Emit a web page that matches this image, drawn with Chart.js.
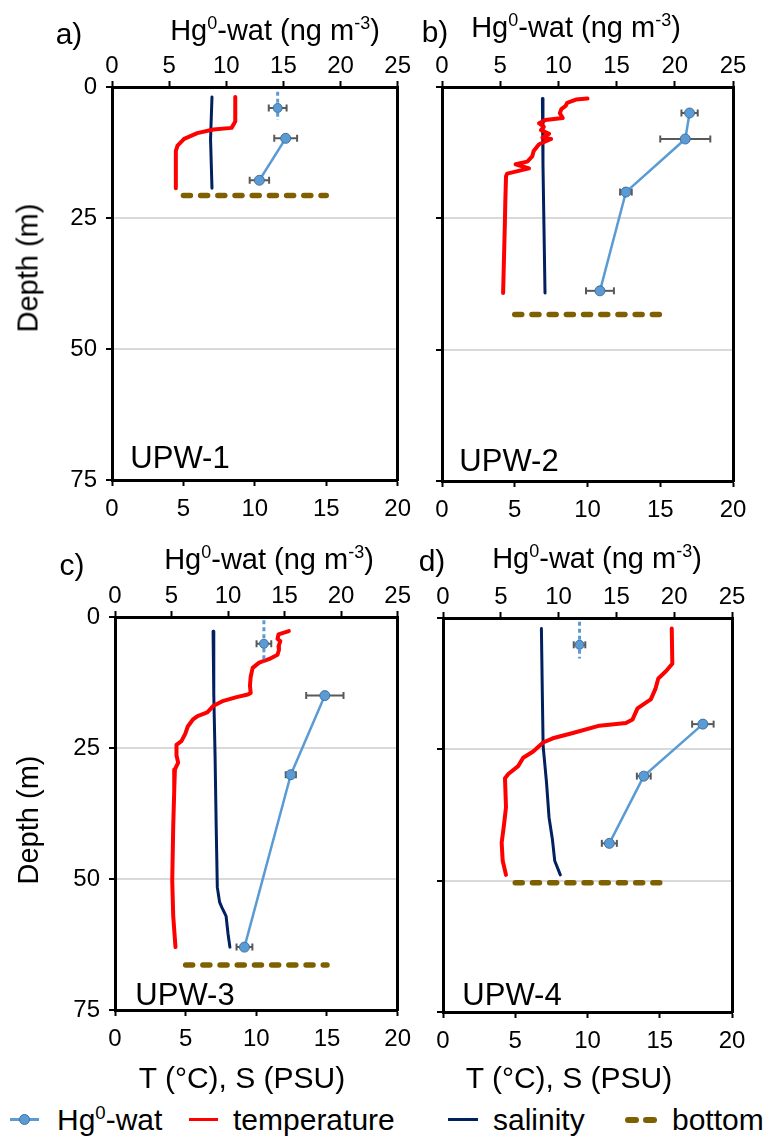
<!DOCTYPE html>
<html lang="en">
<head>
<meta charset="UTF-8" />
<title>Hg0-wat profiles</title>
<script src="https://cdn.jsdelivr.net/npm/chart.js"></script>
<style>
  body { margin: 0; background: #fff; font-family: "Liberation Sans", Arial, sans-serif; color: #000; }
  #wrap { position: relative; width: 767px; height: 1137px; overflow: hidden; }
  canvas { position: absolute; }
  .t { position: absolute; transform: translate(-50%, -50%); line-height: 1; white-space: nowrap; }
  .rot { transform: translate(-50%, -50%) rotate(-90deg); }
  .l { position: absolute; transform: translateY(-50%); line-height: 1; white-space: nowrap; font-size: 30px; }
  sup { font-size: 0.62em; vertical-align: 0.6em; line-height: 0; }
  .swatch { position: absolute; }
</style>
</head>
<body>
<div id="wrap">
  <canvas id="cA" width="420" height="540" style="left:0;top:0"></canvas>
  <canvas id="cB" width="347" height="540" style="left:420px;top:0"></canvas>
  <canvas id="cC" width="420" height="560" style="left:0;top:540px"></canvas>
  <canvas id="cD" width="347" height="560" style="left:420px;top:540px"></canvas>

  <!-- panel letters and titles -->
  <div class="t" style="left:69px;top:34px;font-size:30px">a)</div>
  <div class="t" style="left:275px;top:30px;font-size:29px">Hg<sup>0</sup>-wat (ng m<sup>-3</sup>)</div>
  <div class="t" style="left:435px;top:32px;font-size:30px">b)</div>
  <div class="t" style="left:576px;top:27px;font-size:29px">Hg<sup>0</sup>-wat (ng m<sup>-3</sup>)</div>
  <div class="t" style="left:72px;top:565px;font-size:30px">c)</div>
  <div class="t" style="left:269px;top:559px;font-size:29px">Hg<sup>0</sup>-wat (ng m<sup>-3</sup>)</div>
  <div class="t" style="left:432px;top:561px;font-size:30px">d)</div>
  <div class="t" style="left:597px;top:558px;font-size:29px">Hg<sup>0</sup>-wat (ng m<sup>-3</sup>)</div>

  <div class="t rot" style="left:28px;top:268px;font-size:29px">Depth (m)</div>
  <div class="t rot" style="left:28px;top:820px;font-size:29px">Depth (m)</div>
  <div class="t" style="left:242px;top:1078px;font-size:30px">T (°C), S (PSU)</div>
  <div class="t" style="left:569px;top:1078px;font-size:30px">T (°C), S (PSU)</div>

  <div class="t" style="left:180px;top:457px;font-size:31px">UPW-1</div>
  <div class="t" style="left:509px;top:460px;font-size:31px">UPW-2</div>
  <div class="t" style="left:185px;top:994px;font-size:31px">UPW-3</div>
  <div class="t" style="left:512px;top:994px;font-size:31px">UPW-4</div>

  <!-- legend -->
  <div class="swatch" style="left:10px;top:1118px;width:29px;height:3px;background:#5b9bd5"></div>
  <div class="swatch" style="left:19px;top:1114px;width:9px;height:9px;border-radius:50%;background:#5b9bd5;border:1px solid #41719c"></div>
  <div class="l" style="left:57px;top:1120px">Hg<sup>0</sup>-wat</div>
  <div class="swatch" style="left:189px;top:1118px;width:29px;height:3px;background:#ff0000"></div>
  <div class="l" style="left:233px;top:1120px">temperature</div>
  <div class="swatch" style="left:448px;top:1118px;width:30px;height:3px;background:#002060"></div>
  <div class="l" style="left:493px;top:1120px">salinity</div>
  <div class="swatch" style="left:625px;top:1117px;width:14px;height:6px;border-radius:3px;background:#7f6000"></div>
  <div class="swatch" style="left:643px;top:1117px;width:14px;height:6px;border-radius:3px;background:#7f6000"></div>
  <div class="l" style="left:672px;top:1120px">bottom</div>
</div>

<script>
  // profiles as [value, depth]; Hg as [value, depth, error]
  // UPW-1
  const tempA = [[8.63, 1.9], [8.63, 6.6], [8.37, 7.8], [7.1, 8.1], [5.97, 8.8], [5.05, 9.9], [4.59, 11.2], [4.47, 12.2], [4.47, 19.3]];
  const salA = [[7.0, 1.9], [6.9, 10], [7.0, 19.3]];
  const hgSurfA = [14.5, 4.0, 0.78];
  const hgSurfRangeA = [0.9, 6.3];
  const hgA = [[15.2, 9.8, 1.0], [12.9, 17.8, 0.85]];
  const bottomA = 20.7;

  // UPW-2
  const tempB = [[10.0, 2.2], [9.2, 2.4], [8.6, 3.0], [8.5, 3.6], [8.2, 4.2], [8.1, 5.0], [8.3, 5.9], [7.1, 6.3], [6.67, 6.9], [7.0, 7.6], [6.8, 8.2], [7.36, 8.9], [6.9, 9.6], [7.5, 9.9], [6.67, 10.9], [6.3, 12.2], [6.2, 13.2], [5.86, 14.2], [5.06, 14.7], [5.98, 15.5], [4.48, 16.5], [4.4, 17.0], [4.35, 22], [4.32, 26], [4.2, 39.2]];
  const salB = [[6.9, 2.2], [6.94, 14.8], [7.08, 39.2]];
  const hgSurfB = null;
  const hgSurfRangeB = null;
  const hgB = [[21.27, 4.95, 0.7], [20.9, 9.9, 2.15], [15.8, 20.0, 0.5], [13.57, 38.8, 1.2]];
  const bottomB = 43.3;

  // UPW-3
  const tempC = [[12.3, 2.7], [11.57, 3.3], [11.5, 4.2], [11.7, 4.6], [11.57, 5.6], [11.6, 6.3], [11.5, 7.2], [10.93, 8.0], [10.2, 8.7], [9.74, 9.7], [9.6, 11.4], [9.55, 13.1], [9.6, 14.5], [9.4, 14.8], [8.6, 15.3], [7.67, 16.0], [6.94, 17.0], [6.53, 18.2], [5.84, 18.9], [5.5, 19.6], [5.15, 20.9], [4.97, 22.3], [4.7, 23.7], [4.35, 24.4], [4.35, 26.4], [4.47, 27.8], [4.24, 29.1], [4.19, 33.2], [4.12, 40.0], [4.05, 50.3], [4.12, 57.1], [4.28, 63.0]];
  const salC = [[6.94, 2.7], [6.99, 14.8], [7.08, 26.4], [7.16, 40.0], [7.24, 51.6], [7.4, 54.4], [7.56, 55.4], [7.86, 57.1], [8.0, 60.5], [8.13, 63.0]];
  const hgSurfC = [13.17, 5.1, 0.65];
  const hgSurfRangeC = [0.6, 8.7];
  const hgC = [[18.56, 15.0, 1.65], [15.55, 30.1, 0.45], [11.45, 63.0, 0.7]];
  const bottomC = 66.4;

  // UPW-4
  const tempD = [[15.83, 2.0], [15.87, 8.7], [15.41, 10.2], [14.9, 11.5], [14.7, 13.5], [14.38, 15.5], [13.99, 16.2], [13.46, 17.2], [13.12, 19.3], [12.66, 20.0], [10.83, 20.5], [8.99, 21.9], [7.6, 22.9], [6.93, 23.7], [6.24, 25.4], [5.55, 26.6], [5.2, 28.2], [4.52, 29.7], [4.29, 30.5], [4.36, 36.0], [4.22, 39.4], [4.06, 42.8], [4.13, 46.2], [4.36, 48.9]];
  const salD = [[6.81, 2.0], [6.88, 15.5], [6.93, 24.4], [7.16, 31.2], [7.34, 38.0], [7.57, 42.1], [7.73, 46.2], [8.12, 48.9]];
  const hgSurfD = [11.81, 5.1, 0.5];
  const hgSurfRangeD = [0.7, 7.7];
  const hgD = [[22.48, 20.2, 0.93], [17.37, 30.1, 0.6], [14.39, 42.9, 0.65]];
  const bottomD = 50.4;

  const bottomX = [5, 15]; // extent of the bottom marker on the T/S axis
  const tsTicks = [0, 20, 5];  // min, max, step
  const hgTicks = [0, 25, 5];
  const depthTicks = [0, 75, 25];

  const HG = "#5b9bd5";
  const toXY = (arr) => arr.map((p) => ({ x: p[0], y: p[1] }));

  function buildDatasets(temp, sal, hgSurf, hgSurfRange, hg, bottom) {
    const ds = [];
    if (hgSurf) {
      ds.push({ data: toXY([hgSurf]), xAxisID: "x2", showLine: false, pointRadius: 4.5, pointBackgroundColor: HG, pointBorderColor: "#41719c", pointBorderWidth: 1 });
    }
    ds.push({ data: toXY(hg), xAxisID: "x2", showLine: true, borderColor: HG, borderWidth: 2.5, pointRadius: 5, pointBackgroundColor: HG, pointBorderColor: "#41719c", pointBorderWidth: 1 });
    // horizontal error bars
    const pts = hgSurf ? [hgSurf].concat(hg) : hg;
    pts.forEach((p) => {
      ds.push({
        data: [{ x: p[0] - p[2], y: p[1] }, { x: p[0] + p[2], y: p[1] }],
        xAxisID: "x2", showLine: true, borderColor: "#595959", borderWidth: 2,
        pointStyle: "line", pointRadius: 3.5, pointRotation: 90, pointBorderColor: "#595959", pointBorderWidth: 2,
      });
    });
    if (hgSurf) {
      ds.push({ data: [{ x: hgSurf[0], y: hgSurfRange[0] }, { x: hgSurf[0], y: hgSurfRange[1] }], xAxisID: "x2", showLine: true, borderColor: HG, borderWidth: 3, borderDash: [4, 3], pointRadius: 0 });
    }
    ds.push({ data: toXY(temp), xAxisID: "x", showLine: true, borderColor: "#ff0000", borderWidth: 4, pointRadius: 0, borderJoinStyle: "round", borderCapStyle: "round" });
    ds.push({ data: toXY(sal), xAxisID: "x", showLine: true, borderColor: "#002060", borderWidth: 3, pointRadius: 0, borderJoinStyle: "round", borderCapStyle: "round" });
    ds.push({ data: [{ x: bottomX[0], y: bottom }, { x: bottomX[1], y: bottom }], xAxisID: "x", showLine: true, borderColor: "#7f6000", borderWidth: 5.5, borderDash: [7, 10.2], borderCapStyle: "round", pointRadius: 0 });
    return ds;
  }

  const tickFont = { family: "'Liberation Sans', Arial, sans-serif", size: 24 };

  function drawPanel(id, datasets, o) {
    const axisGrid = { drawOnChartArea: false, tickLength: 6, tickColor: "#000", tickWidth: 2 };
    const border = { color: "#000", width: 3 };
    new Chart(document.getElementById(id), {
      type: "scatter",
      data: { datasets: datasets },
      options: {
        responsive: false,
        animation: false,
        devicePixelRatio: 1,
        layout: { padding: { left: 0, top: 0, right: o.padRight, bottom: 0 } },
        plugins: { legend: { display: false }, tooltip: { enabled: false } },
        elements: { line: { tension: 0 } },
        scales: {
          x: {
            type: "linear", position: "bottom", min: tsTicks[0], max: tsTicks[1],
            ticks: { stepSize: tsTicks[2], autoSkip: false, maxRotation: 0, color: "#000", font: tickFont, padding: 9 },
            grid: axisGrid, border: border,
            afterFit: (s) => { s.height = o.bottomH; },
          },
          x2: {
            type: "linear", position: "top", min: hgTicks[0], max: hgTicks[1],
            ticks: { stepSize: hgTicks[2], autoSkip: false, maxRotation: 0, color: "#000", font: tickFont, padding: 0 },
            grid: axisGrid, border: border,
            afterFit: (s) => { s.height = o.topH; },
          },
          y: {
            type: "linear", position: "left", reverse: true, min: depthTicks[0], max: depthTicks[1],
            ticks: { stepSize: depthTicks[2], display: o.yLabels, color: "#000", font: tickFont, padding: 9 },
            grid: {
              color: (ctx) => (ctx.tick && (ctx.tick.value === 25 || ctx.tick.value === 50) ? "#d9d9d9" : "rgba(0,0,0,0)"),
              lineWidth: 2, tickLength: 6, tickColor: "#000", tickWidth: 2,
            },
            border: border,
            afterFit: (s) => { s.width = o.leftW; },
          },
          yr: {
            type: "linear", position: "right", reverse: true, min: depthTicks[0], max: depthTicks[1],
            ticks: { display: false }, grid: { display: false, drawTicks: false }, border: border,
            afterFit: (s) => { s.width = 0; },
          },
        },
      },
    });
  }

  drawPanel("cA", buildDatasets(tempA, salA, hgSurfA, hgSurfRangeA, hgA, bottomA), { leftW: 112, topH: 87, bottomH: 60, padRight: 17, yLabels: true });
  drawPanel("cB", buildDatasets(tempB, salB, hgSurfB, hgSurfRangeB, hgB, bottomB), { leftW: 22, topH: 87, bottomH: 59, padRight: 34, yLabels: false });
  drawPanel("cC", buildDatasets(tempC, salC, hgSurfC, hgSurfRangeC, hgC, bottomC), { leftW: 115, topH: 77, bottomH: 90, padRight: 14, yLabels: true });
  drawPanel("cD", buildDatasets(tempD, salD, hgSurfD, hgSurfRangeD, hgD, bottomD), { leftW: 23, topH: 78, bottomH: 88, padRight: 35, yLabels: false });
</script>
</body>
</html>
